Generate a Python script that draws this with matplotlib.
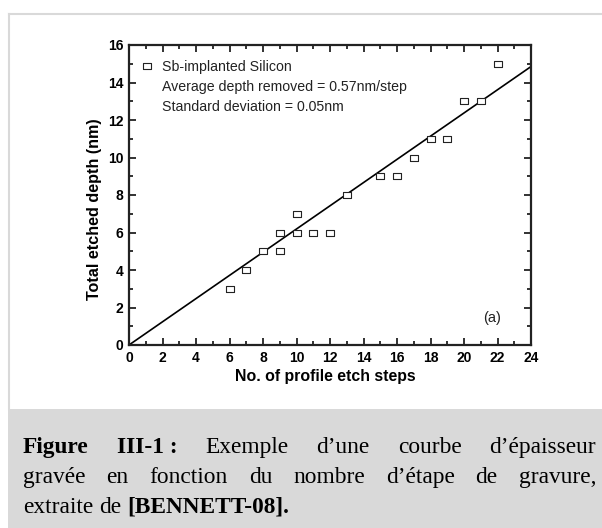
import matplotlib
matplotlib.use("Agg")
import matplotlib.pyplot as plt
from matplotlib.patches import Rectangle
from matplotlib.lines import Line2D
from matplotlib.ticker import MultipleLocator

# data
steps = [6, 7, 8, 9, 9, 10, 10, 11, 12, 13, 15, 16, 17, 18, 19, 20, 21, 22]
depth = [3, 4, 5, 5, 6, 6, 7, 6, 6, 8, 9, 9, 10, 11, 11, 13, 13, 15]
fit_x = [0, 24]
fit_y = [0, 14.85]

legend_lines = ["Sb-implanted Silicon",
                "Average depth removed = 0.57nm/step",
                "Standard deviation = 0.05nm"]

caption_lines = [
    [("Figure", True), ("III-1\u00a0:", True), ("Exemple", False), ("d\u2019une", False),
     ("courbe", False), ("d\u2019\u00e9paisseur", False)],
    [("grav\u00e9e", False), ("en", False), ("fonction", False), ("du", False), ("nombre", False),
     ("d\u2019\u00e9tape", False), ("de", False), ("gravure,", False)],
    [("extraite", False), ("de", False), ("[BENNETT-08].", True)],
]

W, H = 602, 528
fig = plt.figure(figsize=(W / 100, H / 100), dpi=100)

# outer frame + caption box
grey = "#d9d9d9"
fig.add_artist(Rectangle((8 / W, 0), 1 - 8 / W, (H - 409) / H, transform=fig.transFigure,
                         facecolor=grey, edgecolor="none"))
fig.add_artist(Line2D([8.5 / W, 1], [1 - 13.5 / H, 1 - 13.5 / H], transform=fig.transFigure,
                      color=grey, lw=1.5))
fig.add_artist(Line2D([8.5 / W, 8.5 / W], [1 - 13.5 / H, 1 - 409 / H], transform=fig.transFigure,
                      color=grey, lw=1.5))

# the source picture is a bit stretched sideways, so squares come out wider than tall
box = [(-1.2, -1), (1.2, -1), (1.2, 1), (-1.2, 1), (-1.2, -1)]

# plot area (pixels: x 129..531, y 45..345)
ax = fig.add_axes([129 / W, 1 - 345 / H, 402 / W, 300 / H])
ax.plot(fit_x, fit_y, color="black", lw=1.2)
ax.plot(steps, depth, ls="none", marker=box, ms=5.2, mfc="white", mec="#222222", mew=0.8)
ax.set_xlim(0, 24)
ax.set_ylim(0, 16)
ax.xaxis.set_major_locator(MultipleLocator(2))
ax.xaxis.set_minor_locator(MultipleLocator(1))
ax.yaxis.set_major_locator(MultipleLocator(2))
ax.yaxis.set_minor_locator(MultipleLocator(1))
ax.tick_params(which="both", direction="in", top=True, right=True, width=1.3, color="#222222")
ax.tick_params(which="major", length=5, pad=4, labelsize=10)
ax.tick_params(which="minor", length=3)
for s in ax.spines.values():
    s.set_linewidth(1.6)
    s.set_color("#222222")
for lab in ax.get_xticklabels() + ax.get_yticklabels():
    lab.set_fontweight("bold")
    lab.set_family("Liberation Sans")

ax.set_xlabel("No. of profile etch steps", fontsize=11.4, fontweight="bold",
              family="Liberation Sans")
ax.set_ylabel("Total etched depth (nm)", fontsize=11.6, fontweight="bold",
              family="Liberation Sans")
ax.xaxis.set_label_coords(0.4876, -0.08)
ax.yaxis.set_label_coords(-0.067, 0.453)

# legend block
ax.plot([1.07], [14.88], ls="none", marker=box, ms=5.2, mfc="white", mec="#222222", mew=0.8)
for i, t in enumerate(legend_lines):
    ax.text(1.95, 14.85 - i * 1.09, t, fontsize=10.2, family="Liberation Sans",
            va="center", ha="left", color="#222222")
ax.text(21.7, 1.45, "(a)", fontsize=10.5, family="Liberation Sans", va="center", ha="center",
        color="#222222")

# caption, justified like the original
x0, x1 = 23, 596
baselines = [453, 483, 513]
fs = 16.8
fig.canvas.draw()
rend = fig.canvas.get_renderer()

def measure(s, bold):
    t = fig.text(0, 0, s, fontsize=fs, family="Liberation Serif",
                 fontweight="bold" if bold else "normal")
    w = t.get_window_extent(rend).width
    t.remove()
    return w

space = measure("a b", False) - measure("ab", False)
for li, words in enumerate(caption_lines):
    widths = [measure(w, b) for w, b in words]
    if li < len(caption_lines) - 1:
        gap = (x1 - x0 - sum(widths)) / (len(words) - 1)
    else:
        gap = space
    x = x0
    for (w, b), wd in zip(words, widths):
        fig.text(x / W, 1 - baselines[li] / H, w, fontsize=fs, family="Liberation Serif",
                 fontweight="bold" if b else "normal", va="baseline", ha="left")
        x += wd + gap

fig.savefig("out.png", dpi=100)
